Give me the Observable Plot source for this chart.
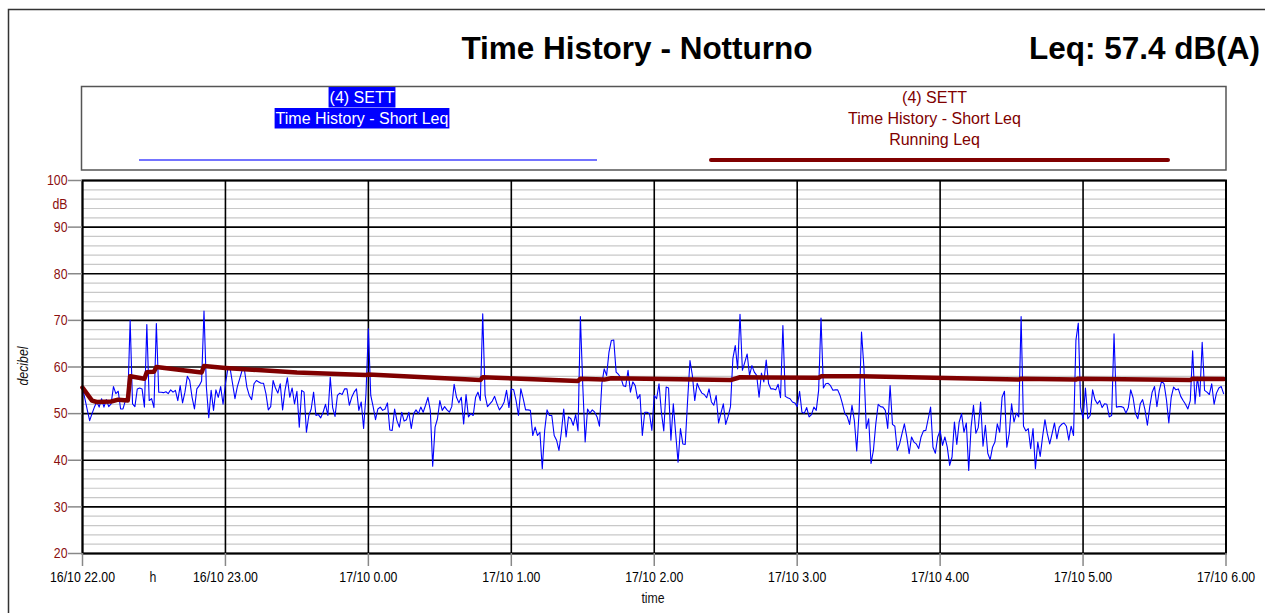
<!DOCTYPE html>
<html>
<head>
<meta charset="utf-8">
<script src="https://cdn.jsdelivr.net/npm/d3@7"></script>
<script src="https://cdn.jsdelivr.net/npm/@observablehq/plot@0.6"></script>
<style>
html, body { margin: 0; padding: 0; background: #fff; }
#wrap { position: relative; width: 1265px; height: 613px; overflow: hidden; }
#wrap svg { position: absolute; left: 0; top: 0; }
</style>
</head>
<body>
<div id="wrap"></div>
<script>
// ---------------- DATA ----------------
const titleText = "Time History - Notturno";
const leqText = "Leq: 57.4 dB(A)";
const seriesName = ["(4) SETT", "Time History - Short Leq"];
const seriesName2 = ["(4) SETT", "Time History - Short Leq", "Running Leq"];

// Short Leq, one value per minute starting 16/10 22.00 (dB)
const shortLeq = [
  55.5, 53.2, 50.8, 48.5, 50.0, 51.4, 52.5, 51.4, 53.2, 51.4,
  53.0, 51.5, 52.1, 55.8, 54.3, 54.8, 51.0, 51.0, 52.8, 52.8,
  70.0, 52.1, 51.5, 55.3, 55.5, 55.3, 51.4, 69.1, 52.8, 53.2,
  51.3, 69.3, 54.6, 54.6, 54.5, 54.7, 54.3, 55.1, 54.6, 55.0,
  52.8, 56.0, 52.3, 54.6, 58.0, 57.1, 53.5, 51.0, 55.3, 56.0,
  57.0, 72.0, 55.7, 49.1, 55.0, 50.7, 55.1, 53.5, 55.8, 52.0,
  56.4, 59.6, 59.6, 56.4, 53.2, 55.8, 57.5, 59.3, 59.3, 55.7,
  53.9, 53.0, 56.4, 57.1, 56.8, 56.5, 56.5, 54.3, 50.8, 51.5,
  57.1, 55.5, 54.4, 56.4, 50.8, 55.0, 57.7, 53.5, 55.5, 52.1,
  54.8, 47.1, 55.0, 54.6, 46.0, 49.6, 51.0, 54.6, 49.6, 49.8,
  49.1, 50.3, 52.0, 49.6, 57.8, 51.3, 49.4, 53.9, 54.4, 54.1,
  55.3, 55.3, 51.8, 53.5, 54.6, 55.3, 50.7, 52.5, 46.8, 54.3,
  68.2, 53.9, 51.5, 48.7, 51.0, 51.4, 50.7, 51.0, 52.3, 46.5,
  46.4, 51.0, 48.5, 47.1, 50.3, 48.4, 48.7, 50.3, 46.8, 50.0,
  50.8, 50.0, 51.4, 50.3, 51.8, 53.5, 50.7, 38.7, 47.1, 48.9,
  52.8, 50.7, 51.5, 50.8, 50.3, 51.5, 56.3, 53.5, 52.3, 53.5,
  47.8, 54.1, 49.3, 50.0, 49.6, 53.5, 54.6, 52.8, 71.4, 53.9,
  51.5, 52.1, 52.7, 53.7, 52.1, 50.8, 51.5, 52.5, 55.0, 51.3,
  55.3, 55.1, 52.8, 49.6, 55.3, 53.2, 50.8, 50.8, 50.7, 45.3,
  47.1, 45.3, 46.0, 38.2, 46.4, 50.8, 49.6, 49.6, 45.3, 44.3,
  42.1, 46.0, 51.0, 45.0, 49.3, 48.9, 47.5, 49.8, 46.3, 70.8,
  56.0, 43.9, 51.0, 50.1, 50.8, 50.3, 49.3, 47.3, 56.4, 59.6,
  58.2, 63.2, 65.7, 65.8, 58.9, 58.4, 57.7, 56.0, 55.8, 59.3,
  54.6, 56.8, 56.0, 53.2, 54.1, 45.3, 50.3, 50.3, 50.0, 46.4,
  53.9, 53.2, 56.4, 50.3, 46.3, 55.7, 55.5, 44.3, 52.1, 45.7,
  39.6, 46.8, 43.5, 43.4, 52.8, 61.4, 58.2, 52.8, 56.5, 55.3,
  54.4, 54.1, 53.4, 55.3, 52.5, 51.8, 53.9, 48.0, 50.1, 52.1,
  47.7, 49.4, 51.5, 61.8, 64.6, 59.6, 71.3, 59.3, 61.0, 62.8,
  58.2, 60.3, 58.9, 58.2, 53.5, 58.7, 56.8, 61.5, 56.4, 55.3,
  55.3, 55.1, 56.3, 53.4, 68.9, 53.7, 53.4, 53.2, 52.5, 52.3,
  51.5, 54.8, 50.3, 50.1, 51.3, 49.3, 49.8, 51.4, 50.7, 55.0,
  70.5, 55.5, 56.4, 56.5, 56.0, 55.0, 55.1, 55.1, 53.9, 52.1,
  50.0, 49.4, 47.7, 51.8, 48.5, 42.0, 50.5, 67.5, 60.0, 46.8,
  48.9, 39.3, 42.1, 47.8, 52.0, 51.5, 51.4, 50.7, 46.8, 56.0,
  47.7, 47.3, 42.1, 43.5, 45.7, 47.8, 45.0, 41.4, 45.0, 43.9,
  43.5, 42.5, 45.0, 46.3, 46.4, 48.9, 51.4, 42.8, 41.5, 45.0,
  46.4, 43.2, 45.0, 42.8, 38.9, 40.7, 48.2, 43.4, 48.2, 50.0,
  46.0, 48.0, 37.8, 47.1, 51.8, 45.8, 47.0, 52.5, 43.0, 47.5,
  41.5, 40.1, 42.8, 43.9, 47.8, 46.0, 53.5, 54.8, 42.8, 45.7,
  52.1, 48.2, 50.1, 49.3, 70.8, 47.3, 46.3, 46.8, 42.5, 46.8,
  38.2, 43.9, 40.8, 45.0, 48.7, 45.7, 43.5, 45.7, 48.0, 44.6,
  47.1, 47.7, 48.0, 47.3, 44.3, 47.3, 45.3, 65.7, 69.4, 51.4,
  48.9, 55.5, 48.9, 49.6, 55.1, 53.0, 52.1, 52.8, 51.3, 52.1,
  52.0, 49.3, 49.6, 67.1, 51.4, 51.5, 51.5, 51.3, 50.1, 51.3,
  55.1, 53.4, 50.0, 48.9, 52.1, 53.0, 50.8, 47.5, 51.5, 54.6,
  55.8, 51.5, 55.0, 57.0, 56.4, 53.0, 48.0, 53.5, 55.7, 55.1,
  55.3, 53.7, 52.8, 52.0, 51.0, 52.8, 63.5, 52.1, 57.8, 53.7,
  65.3, 55.0, 54.6, 54.1, 56.4, 52.0, 54.4, 55.5, 55.8, 54.3
];

// Running Leq, minutes after 22.00 and value (dB)
const runMin = [0, 3, 4, 6, 12, 15, 19, 20, 26, 27, 30, 31, 50, 51, 60, 90, 119, 120, 167, 168,
                192, 208, 209, 219, 222, 272, 276, 309, 310, 327, 393, 394, 417, 418, 465, 466, 479];
const runDb  = [55.6, 53.5, 52.8, 52.5, 52.6, 53.0, 52.8, 58.0, 57.5, 58.9, 59.0, 60.0, 58.8, 60.2, 59.8, 58.8, 58.3, 58.4, 57.2, 57.8,
                57.3, 57.0, 57.5, 57.3, 57.6, 57.2, 57.8, 57.7, 58.0, 58.0, 57.3, 57.5, 57.3, 57.5, 57.2, 57.5, 57.4];

// Axis ticks
const hourOffsets = [0, 1, 2, 3, 4, 5, 6, 7, 8];
const xTickLabels = ["16/10 22.00", "16/10 23.00", "17/10 0.00", "17/10 1.00", "17/10 2.00",
                     "17/10 3.00", "17/10 4.00", "17/10 5.00", "17/10 6.00"];
const yMajor = [20, 30, 40, 50, 60, 70, 80, 90, 100];
const yMinor = [22, 24, 26, 28, 32, 34, 36, 38, 42, 44, 46, 48, 52, 54, 56, 58,
                62, 64, 66, 68, 72, 74, 76, 78, 82, 84, 86, 88, 92, 94, 96, 98];

// ---------------- BUILD ----------------
const t0 = Date.UTC(2000, 9, 16, 22, 0, 0);
const MIN = 60000;
const shortData = shortLeq.map((v, i) => ({t: new Date(t0 + i * MIN), v}));
const runData = runMin.map((m, i) => ({t: new Date(t0 + m * MIN), v: runDb[i]}));
const xTicks = hourOffsets.map(h => new Date(t0 + h * 60 * MIN));
const labelOf = d => xTickLabels[xTicks.findIndex(t => +t === +d)];

const SANS = "'Liberation Sans', Arial, Helvetica, sans-serif";
const RED = "#800000";
const TICKRED = "#8b0f0f";
const NARROW_FACTOR = 0.82;

const chart = Plot.plot({
  width: 1265,
  height: 613,
  marginLeft: 82,
  marginRight: 39.5,
  marginTop: 180,
  marginBottom: 60,
  style: {fontFamily: SANS, fontSize: "15px", background: "transparent", color: "#000"},
  x: {type: "utc", domain: [xTicks[0], xTicks[xTicks.length - 1]]},
  y: {domain: [20, 100]},
  marks: [
    Plot.ruleY(yMinor, {stroke: "#c8c8c8", strokeWidth: 1.2}),
    Plot.ruleY(yMajor, {stroke: "#000", strokeWidth: 1.6}),
    Plot.ruleX(xTicks, {stroke: "#000", strokeWidth: 1.6}),
    Plot.line(shortData, {x: "t", y: "v", stroke: "#0000ff", strokeWidth: 1.1}),
    Plot.line(runData, {x: "t", y: "v", stroke: RED, strokeWidth: 4.5, strokeLinejoin: "round", strokeLinecap: "round"}),
    Plot.frame({stroke: "#000", strokeWidth: 2}),
    Plot.axisY({ticks: yMajor, tickSize: 14, tickPadding: 1, stroke: "#888", strokeWidth: 1.5, fill: TICKRED, label: null, fontSize: 15}),
    Plot.text([{y: 95, s: "dB"}], {y: "y", text: "s", frameAnchor: "left", textAnchor: "end", dx: -15, fill: TICKRED, fontSize: 15}),
    Plot.axisX({ticks: xTicks, tickFormat: labelOf, tickSize: 13, tickPadding: 5, stroke: "#888", strokeWidth: 1.5, fill: "#000", label: null, fontSize: 15})
  ]
});

const wrap = document.getElementById("wrap");
const bg = d3.create("svg").attr("width", 1265).attr("height", 613);
bg.append("rect").attr("width", 1265).attr("height", 613).attr("fill", "#fff");
wrap.appendChild(bg.node());
wrap.appendChild(chart);

const svg = d3.select(chart);

// outer border
svg.append("path").attr("d", "M8.5,613 V9.5 H1265").attr("fill", "none").attr("stroke", "#333").attr("stroke-width", 1.5);

// titles
svg.append("text").attr("x", 637).attr("y", 59).attr("text-anchor", "middle")
  .attr("font-family", SANS).attr("font-weight", "bold").attr("font-size", 31.5).attr("fill", "#000").text(titleText);
svg.append("text").attr("x", 1260).attr("y", 59).attr("text-anchor", "end")
  .attr("font-family", SANS).attr("font-weight", "bold").attr("font-size", 31.5).attr("fill", "#000").text(leqText);

// legend box
const lg = svg.append("g").attr("font-family", SANS).attr("font-size", 16);
lg.append("rect").attr("x", 81.5).attr("y", 86.5).attr("width", 1144.5).attr("height", 83.5)
  .attr("fill", "none").attr("stroke", "#555").attr("stroke-width", 1.5);

const baseY = [103, 124, 145];
seriesName.forEach((s, i) => {
  const r = lg.append("rect").attr("fill", "#0000ff");
  const t = lg.append("text").attr("x", 362).attr("y", baseY[i]).attr("text-anchor", "middle").attr("fill", "#fff").text(s);
  const w = t.node().getComputedTextLength();
  r.attr("x", 362 - w / 2 - 1).attr("y", baseY[i] - 16).attr("width", w + 2).attr("height", 20.5);
});
lg.append("line").attr("x1", 139).attr("x2", 597).attr("y1", 160).attr("y2", 160)
  .attr("stroke", "#7474ff").attr("stroke-width", 1.8);

seriesName2.forEach((s, i) => {
  lg.append("text").attr("x", 934.5).attr("y", baseY[i]).attr("text-anchor", "middle").attr("fill", RED).text(s);
});
lg.append("line").attr("x1", 711).attr("x2", 1168).attr("y1", 160).attr("y2", 160)
  .attr("stroke", RED).attr("stroke-width", 4).attr("stroke-linecap", "round");

// axis labels
const extra = [];
extra.push(svg.append("text").attr("transform", "translate(28,366) rotate(-90)").attr("text-anchor", "middle")
  .attr("font-family", SANS).attr("font-size", 15).attr("font-style", "italic").attr("fill", "#111").text("decibel"));
extra.push(svg.append("text").attr("x", 153).attr("y", 582).attr("text-anchor", "middle")
  .attr("font-family", SANS).attr("font-size", 15).attr("fill", "#111").text("h"));
extra.push(svg.append("text").attr("x", 653).attr("y", 603).attr("text-anchor", "middle")
  .attr("font-family", SANS).attr("font-size", 15).attr("fill", "#111").text("time"));

// condensed look for axis texts (narrow face not installed): compress glyphs horizontally
const narrowTexts = svg.selectAll('g[aria-label="x-axis tick label"] text, g[aria-label="y-axis tick label"] text, g[aria-label="text"] text').nodes()
  .concat(extra.map(e => e.node()));
narrowTexts.forEach(n => {
  const w = n.getComputedTextLength();
  if (w > 0) {
    n.setAttribute("textLength", (w * NARROW_FACTOR).toFixed(2));
    n.setAttribute("lengthAdjust", "spacingAndGlyphs");
  }
});
</script>
</body>
</html>
